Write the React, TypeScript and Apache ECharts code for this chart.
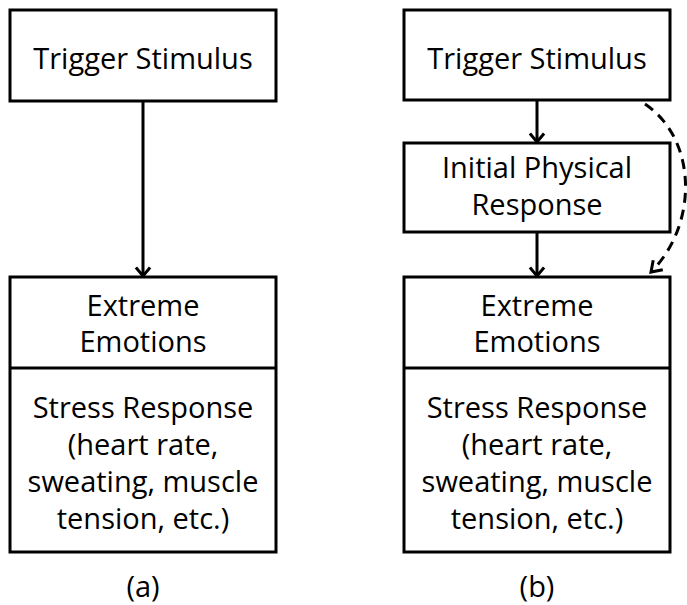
import React, { useEffect, useRef } from "react";
import * as echarts from "echarts";

const topLabel = ["Trigger Stimulus"];
const middleLabel = ["Initial Physical", "Response"];
const emotionLabel = ["Extreme", "Emotions"];
const stressLabel = ["Stress Response", "(heart rate,", "sweating, muscle", "tension, etc.)"];
const panelLabels = ["(a)", "(b)"];

const FONT = "'Open Sans'";
const FS = 29;
const LW = 3;

function textBlock(lines: string[], cx: number, cy: number, gap: number) {
  return {
    type: "text",
    x: cx,
    y: cy,
    style: {
      text: lines.join("\n"),
      fontFamily: FONT,
      fontSize: FS,
      lineHeight: gap,
      fill: "#000",
      align: "center",
      verticalAlign: "middle",
    },
  };
}

function box(x: number, y: number, w: number, h: number) {
  return {
    type: "rect",
    shape: { x, y, width: w, height: h },
    style: { fill: "#fff", stroke: "#000", lineWidth: LW },
  };
}

function arrowHead(tx: number, ty: number, angle: number, len = 10, spread = 0.6) {
  const a1 = angle + Math.PI - spread;
  const a2 = angle + Math.PI + spread;
  return {
    type: "polyline",
    shape: {
      points: [
        [tx + len * Math.cos(a1), ty + len * Math.sin(a1)],
        [tx, ty],
        [tx + len * Math.cos(a2), ty + len * Math.sin(a2)],
      ],
    },
    style: { stroke: "#000", lineWidth: LW, fill: null },
  };
}

function vArrow(x: number, y1: number, y2: number) {
  return [
    { type: "line", shape: { x1: x, y1, x2: x, y2: y2 - 1 }, style: { stroke: "#000", lineWidth: LW } },
    arrowHead(x, y2 - 1, Math.PI / 2, 11, 0.7),
  ];
}

export default function App() {
  const ref = useRef<HTMLDivElement>(null);
  useEffect(() => {
    document.body.style.margin = "0";
    const chart = echarts.init(ref.current!, null, { renderer: "svg" });
    const L = 10, R = 404, W = 266;
    const cxL = L + W / 2, cxR = R + W / 2;
    const elements: any[] = [
      // Panel (a)
      box(L, 10, W, 91),
      textBlock(topLabel, cxL, 57, 36),
      ...vArrow(cxL, 101, 277),
      box(L, 277, W, 275),
      { type: "line", shape: { x1: L, y1: 368, x2: L + W, y2: 368 }, style: { stroke: "#000", lineWidth: LW } },
      textBlock(emotionLabel, cxL, 322, 36),
      textBlock(stressLabel, cxL, 462, 37),
      textBlock([panelLabels[0]], cxL, 585, 36),
      // Panel (b)
      box(R, 10, W, 90),
      textBlock(topLabel, cxR, 57, 36),
      ...vArrow(cxR, 100, 143),
      box(R, 143, W, 89),
      textBlock(middleLabel, cxR, 185, 37),
      ...vArrow(cxR, 232, 277),
      box(R, 277, W, 275),
      { type: "line", shape: { x1: R, y1: 368, x2: R + W, y2: 368 }, style: { stroke: "#000", lineWidth: LW } },
      textBlock(emotionLabel, cxR, 322, 36),
      textBlock(stressLabel, cxR, 462, 37),
      textBlock([panelLabels[1]], cxR, 585, 36),
      // dashed feedback curve
      {
        type: "bezierCurve",
        shape: { x1: 645, y1: 104, cpx1: 698, cpy1: 140, cpx2: 698, cpy2: 225, x2: 651, y2: 272 },
        style: { stroke: "#000", lineWidth: LW, lineDash: [10, 7], fill: null },
      },
      arrowHead(651, 272, Math.atan2(272 - 225, 651 - 698), 12, 0.6),
    ];
    chart.setOption({
      animation: false,
      backgroundColor: "#fff",
      graphic: { elements },
    });
    return () => chart.dispose();
  }, []);
  return <div ref={ref} style={{ width: 687, height: 605, position: "absolute", left: 0, top: 0 }} />;
}
